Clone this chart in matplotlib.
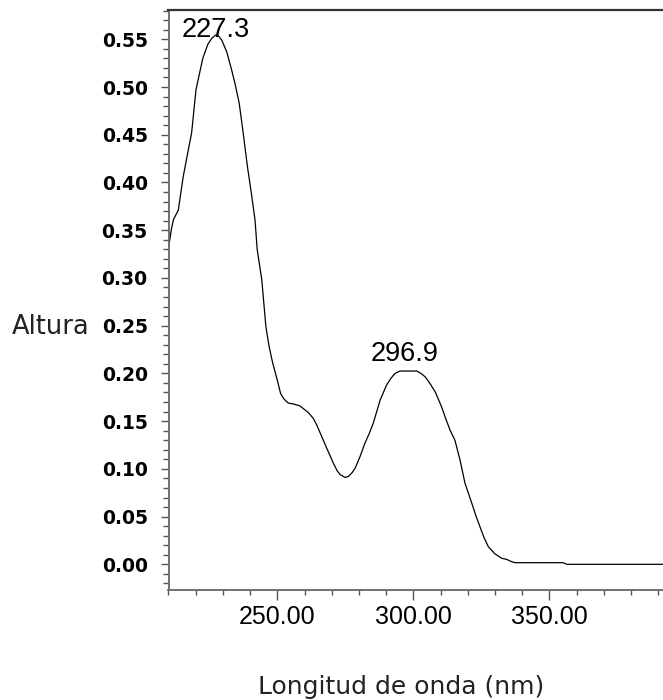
import numpy as np
import matplotlib
matplotlib.use("Agg")
import matplotlib.pyplot as plt
from matplotlib.ticker import MultipleLocator, FormatStrFormatter

# Absorption spectrum (wavelength in nm, height in AU)
wavelength = [210.0, 211.0, 211.8, 213.6, 215.4, 217.0, 218.5, 220.1, 222.6, 224.5,
              225.9, 227.3, 228.5, 229.6, 231.4, 233.2, 234.5, 236.0, 237.5, 239.0,
              240.5, 241.8, 242.6, 244.3, 245.8, 247.0, 248.3, 250.0, 251.2, 252.5,
              254.0, 255.9, 258.3, 259.6, 261.4, 263.2, 264.5, 266.3, 268.2, 270.6,
              272.0, 273.1, 274.9, 276.1, 277.5, 278.6, 280.4, 282.2, 283.8, 285.3,
              287.8, 290.2, 291.8, 293.3, 295.1, 297.0, 299.0, 301.3, 302.8, 304.3,
              306.0, 308.0, 310.4, 312.0, 313.5, 315.3, 317.2, 319.0, 321.5, 323.0,
              324.5, 326.0, 327.6, 330.0, 332.5, 334.3, 336.0, 337.4, 355.0, 356.5,
              392.0]
altura = [0.331, 0.350, 0.361, 0.371, 0.406, 0.430, 0.452, 0.497, 0.530, 0.545,
          0.551, 0.5545, 0.553, 0.549, 0.537, 0.518, 0.503, 0.483, 0.451, 0.417,
          0.388, 0.361, 0.330, 0.298, 0.249, 0.228, 0.211, 0.193, 0.179, 0.173,
          0.169, 0.168, 0.166, 0.163, 0.159, 0.153, 0.146, 0.134, 0.1215, 0.106,
          0.098, 0.094, 0.091, 0.092, 0.096, 0.1006, 0.1127, 0.1268, 0.137, 0.148,
          0.172, 0.188, 0.195, 0.200, 0.2025, 0.2025, 0.2025, 0.2025, 0.200, 0.1966,
          0.190, 0.181, 0.165, 0.152, 0.1407, 0.130, 0.109, 0.085, 0.064, 0.051,
          0.0394, 0.028, 0.0184, 0.011, 0.0063, 0.0052, 0.003, 0.0017, 0.0017, 0.0,
          0.0]

peak_wavelengths = [227.3, 296.9]
peak_labels = ["227.3", "296.9"]
peak_offsets = [-6, 3]   # points above the curve

x_major = [250, 300, 350]

W, H = 663, 700
fig = plt.figure(figsize=(W / 100, H / 100), dpi=100)
ax = fig.add_axes([168.5 / W, 1 - 590 / H, (663 - 168.5) / W, 580 / H])

ax.plot(wavelength, altura, color="black", lw=0.9)

ax.set_xlim(210, 391.8)
ax.set_ylim(-0.0269, 0.5807)

for wl, lab, off in zip(peak_wavelengths, peak_labels, peak_offsets):
    yv = np.interp(wl, wavelength, altura)
    ax.annotate(lab, xy=(wl, yv), xytext=(0, off), textcoords="offset points",
                ha="center", va="bottom", fontsize=19.5,
                family="Liberation Sans", color="black")

ax.xaxis.set_major_locator(plt.FixedLocator(x_major))
ax.xaxis.set_minor_locator(MultipleLocator(10))
ax.xaxis.set_major_formatter(FormatStrFormatter("%.2f"))
ax.yaxis.set_major_locator(MultipleLocator(0.05))
ax.yaxis.set_minor_locator(MultipleLocator(0.01))
ax.yaxis.set_major_formatter(FormatStrFormatter("%.2f"))

ax.tick_params(axis="both", which="both", direction="out", colors="#555555",
               width=1.0)
ax.tick_params(axis="y", which="major", length=6, pad=9, labelcolor="black")
ax.tick_params(axis="y", which="minor", length=4)
ax.tick_params(axis="x", which="major", length=7.5, pad=3, labelcolor="black")
ax.tick_params(axis="x", which="minor", length=3.5)

for lab in ax.get_yticklabels():
    lab.set_fontfamily("DejaVu Sans")
    lab.set_fontweight("bold")
    lab.set_fontsize(13.5)
for lab in ax.get_xticklabels():
    lab.set_fontfamily("Liberation Sans")
    lab.set_fontsize(18)

ax.spines["right"].set_visible(False)
ax.spines["left"].set_color("#666666")
ax.spines["left"].set_linewidth(1.3)
ax.spines["bottom"].set_color("#666666")
ax.spines["bottom"].set_linewidth(1.3)
ax.spines["top"].set_color("#333333")
ax.spines["top"].set_linewidth(1.6)

fig.text(12 / W, 1 - 327 / H, "Altura", ha="left", va="center",
         fontsize=18.5, family="DejaVu Sans", color="#222222")
fig.text(401 / W, 1 - 687 / H, "Longitud de onda (nm)", ha="center",
         va="center", fontsize=18, family="DejaVu Sans", color="#222222")

fig.savefig("out.png", dpi=100)
